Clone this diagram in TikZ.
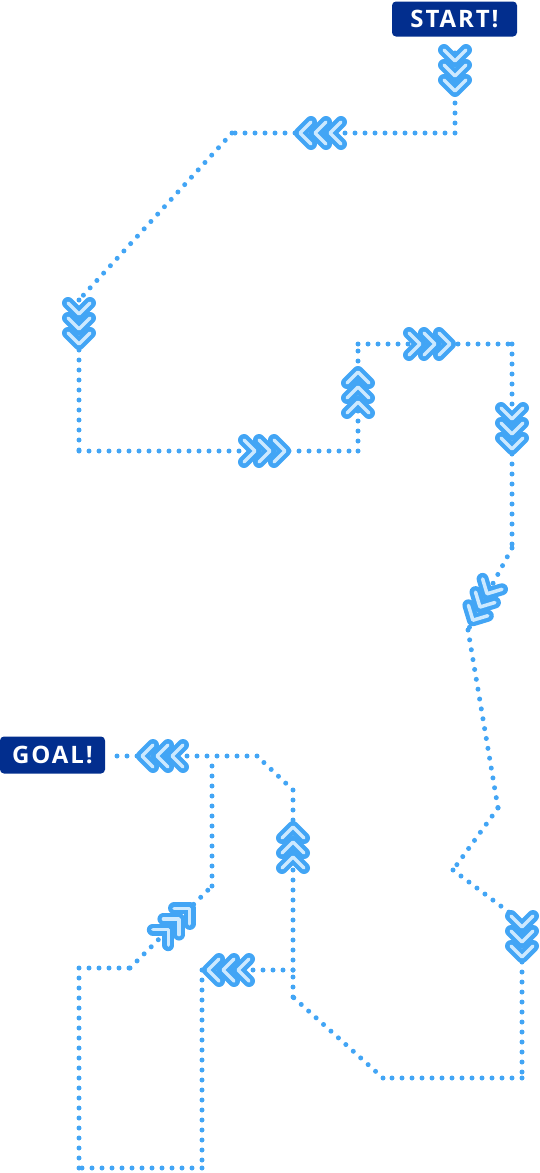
\documentclass[tikz,border=0pt]{standalone}
\usepackage{fontspec}
\newfontfamily\labelfont{Open Sans}[LetterSpace=8]
\definecolor{dotblue}{RGB}{66,165,245}
\definecolor{chevlight}{RGB}{204,233,255}
\definecolor{navy}{RGB}{2,46,142}
\tikzset{
  dotline/.style={dotblue, line width=5pt, line cap=round, dash pattern=on 0pt off 10pt},
  chevout/.style={dotblue, line width=12pt, line cap=round, line join=round},
  chevin/.style={chevlight, line width=3.5pt, line cap=round, line join=round},
  tag/.style={fill=navy, rounded corners=4pt, text=white, inner sep=0pt,
    font=\labelfont\bfseries\fontsize{24}{24}\selectfont},
  chevs/.pic={
    \foreach \t in {-15,0,15}{
      \draw[chevout] (\t-11,11) -- (\t,0) -- (\t-11,-11);
      \draw[chevin] (\t-11,11) -- (\t,0) -- (\t-11,-11);
    }
  }
}
\begin{document}
\begin{tikzpicture}[x=1pt,y=-1pt]
\useasboundingbox (0,0) rectangle (540,1173);
% labels
\node[tag, minimum width=125pt, minimum height=35pt] (start) at (454.5,19) {START!};
\node[tag, minimum width=105pt, minimum height=37pt] (goal) at (52.5,755) {GOAL!};
% route points
\coordinate (a0) at (455,53);
\coordinate (a1) at (455,133);
\coordinate (a2) at (232,133);
\coordinate (a3) at (79,300);
\coordinate (a4) at (79,451);
\coordinate (a5) at (358,451);
\coordinate (a6) at (358,344);
\coordinate (a7) at (512,344);
\coordinate (a8) at (512,548);
\coordinate (a9) at (468,630);
\coordinate (a10) at (498,808);
\coordinate (a11) at (453,870);
\coordinate (a12) at (522,922);
\coordinate (a13) at (522,1078);
\coordinate (a14) at (383,1078);
\coordinate (a15) at (293,997);
\coordinate (j) at (293,970);
\coordinate (a16) at (293,790);
\coordinate (a17) at (257,756);
\coordinate (a18) at (107,756);
\coordinate (b1) at (202,970);
\coordinate (b2) at (202,1168);
\coordinate (b3) at (79,1168);
\coordinate (b4) at (79,968);
\coordinate (b5) at (130,968);
\coordinate (b6) at (212,886);
\coordinate (b7) at (212,756);
% dotted connectors
\draw[dotline] (a0) -- (a1);
\draw[dotline] (a1) -- (a2);
\draw[dotline] (a2) -- (a3);
\draw[dotline] (a3) -- (a4);
\draw[dotline] (a4) -- (a5);
\draw[dotline] (a5) -- (a6);
\draw[dotline] (a6) -- (a7);
\draw[dotline] (a7) -- (a8);
\draw[dotline] (a8) -- (a9);
\draw[dotline] (a9) -- (a10);
\draw[dotline] (a10) -- (a11);
\draw[dotline] (a11) -- (a12);
\draw[dotline] (a12) -- (a13);
\draw[dotline] (a13) -- (a14);
\draw[dotline] (a14) -- (a15);
\draw[dotline] (a15) -- (j);
\draw[dotline] (j) -- (a16);
\draw[dotline] (a16) -- (a17);
\draw[dotline] (a17) -- (a18);
\draw[dotline] (j) -- (b1);
\draw[dotline] (b1) -- (b2);
\draw[dotline] (b2) -- (b3);
\draw[dotline] (b3) -- (b4);
\draw[dotline] (b4) -- (b5);
\draw[dotline] (b5) -- (b6);
\draw[dotline] (b6) -- (b7);
% chevron groups
\pic[rotate=-90] at (455,76) {chevs};
\pic[rotate=180] at (315,133) {chevs};
\pic[rotate=-90] at (79,329) {chevs};
\pic at (270,451) {chevs};
\pic[rotate=90] at (358,387) {chevs};
\pic at (435,344) {chevs};
\pic[rotate=-90] at (512,434) {chevs};
\pic[rotate=-118.2] at (480,607) {chevs};
\pic[rotate=-90] at (522,942) {chevs};
\pic[rotate=90] at (293,842) {chevs};
\pic[rotate=180] at (157,756) {chevs};
\pic[rotate=45] at (179,919) {chevs};
\pic[rotate=180] at (223,970) {chevs};
\end{tikzpicture}
\end{document}
